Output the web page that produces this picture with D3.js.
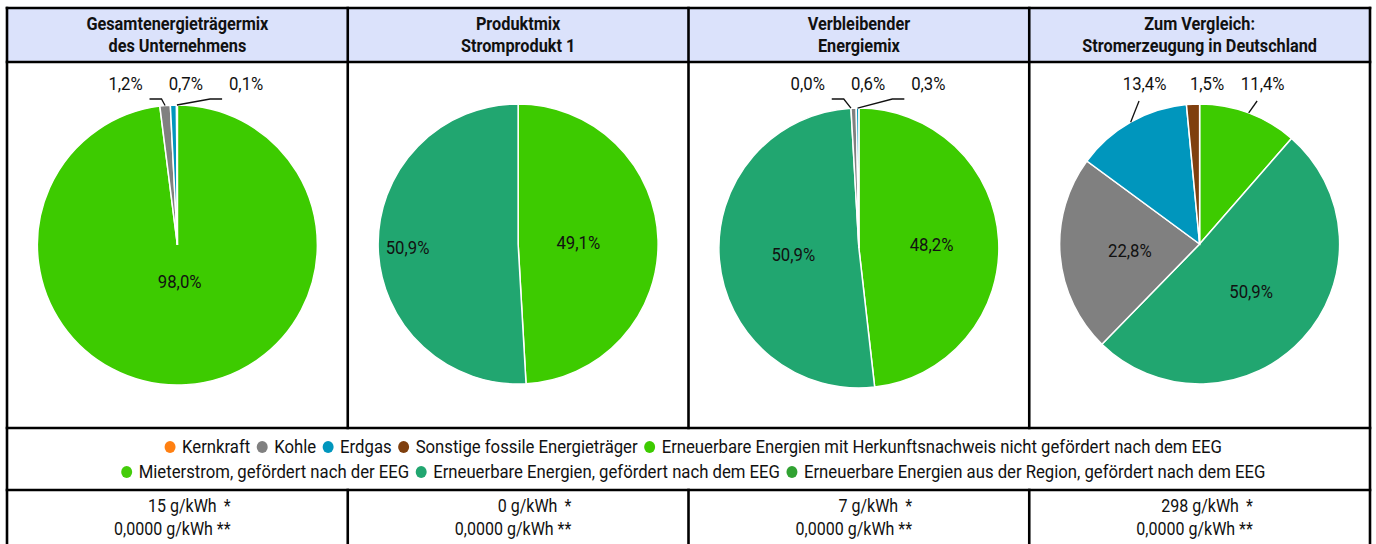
<!DOCTYPE html>
<html>
<head>
<meta charset="utf-8">
<script src="https://cdn.jsdelivr.net/npm/d3@7"></script>
<style>
  body { margin: 0; background: #fff; }
  text { font-family: Roboto, "Noto Sans", sans-serif; fill: #111; }
</style>
</head>
<body>
<div id="chart"></div>
<script>

var width = 1376;
var height = 544;

// legend categories (legend order)
var categories = [
  "Kernkraft",
  "Kohle",
  "Erdgas",
  "Sonstige fossile Energieträger",
  "Erneuerbare Energien mit Herkunftsnachweis nicht gefördert nach dem EEG",
  "Mieterstrom, gefördert nach der EEG",
  "Erneuerbare Energien, gefördert nach dem EEG",
  "Erneuerbare Energien aus der Region, gefördert nach dem EEG"
];
var colors = ["#ff8012", "#808080", "#0096bd", "#7f3f0e", "#3dcb00", "#44cc0a", "#21a670", "#31a232"];

// column headers
var titles = [
  ["Gesamtenergieträgermix", "des Unternehmens"],
  ["Produktmix", "Stromprodukt 1"],
  ["Verbleibender", "Energiemix"],
  ["Zum Vergleich:", "Stromerzeugung in Deutschland"]
];

// shares in %, same order as categories (null = not in this mix)
var gesamtmix   = [null, 1.2, 0.7, 0.1, 98.0, null, null, null];
var produktmix  = [null, null, null, null, 49.1, null, 50.9, null];
var verbleibend = [0.0, 0.6, 0.3, null, 48.2, null, 50.9, null];
var deutschland = [null, 22.8, 13.4, 1.5, 11.4, null, 50.9, null];
var mixes = [gesamtmix, produktmix, verbleibend, deutschland];

// CO2 emissions and radioactive waste per column
var co2 = [15, 0, 7, 298];
var waste = [0, 0, 0, 0];

// slices run clockwise from 12 o'clock in this order
var sliceOrder = [4, 5, 6, 7, 0, 1, 2, 3];

// layout
var tableTop = 8, headBottom = 62, plotBottom = 428, legendBottom = 490, tableBottom = 560;
var radius = 140;
var pieY = [245, 244, 248, 244];
// radial position of labels inside the slices (fraction of radius)
var insideLabelR = [{4: 0.26}, {4: 0.43, 6: 0.79}, {4: 0.52, 6: 0.47}, {}];
var SX = 0.88; // narrow the font a bit

var de = d3.formatLocale({decimal: ",", thousands: ".", grouping: [3], currency: ["", "€"]});
var pct = de.format(".1f");
var fmt4 = de.format(".4f");

var xCol = d3.scaleLinear().domain([0, 4]).range([7, 1370]);

var svg = d3.select("#chart")
  .append("svg")
  .attr("width", width)
  .attr("height", height);

function label(sel, x, y, str, size, weight, anchor) {
  return sel.append("text")
    .attr("transform", "translate(" + x + "," + y + ") scale(" + SX + ",1)")
    .attr("text-anchor", anchor || "middle")
    .style("font-size", size + "px")
    .style("font-weight", weight || 400)
    .text(str);
}
function textWidth(t) {
  return t.node().getComputedTextLength() * SX;
}

// header background
svg.append("rect")
  .attr("x", xCol(0)).attr("y", tableTop)
  .attr("width", xCol(4) - xCol(0)).attr("height", headBottom - tableTop)
  .attr("fill", "#dbe2fb");

// headers
titles.forEach(function(t, i) {
  var cx = (xCol(i) + xCol(i + 1)) / 2;
  label(svg, cx, 30, t[0], 18.5, 700);
  label(svg, cx, 52, t[1], 18.5, 700);
});

// pies
var pie = d3.pie().sort(null).value(function(d) { return d.v || 0; })
  .startAngle(0).endAngle(2 * Math.PI);
var arc = d3.arc().innerRadius(0).outerRadius(radius);

mixes.forEach(function(mix, i) {
  var cx = (xCol(i) + xCol(i + 1)) / 2;
  var cy = pieY[i];
  var rows = sliceOrder.map(function(k) { return {k: k, v: mix[k]}; });
  var arcs = pie(rows);

  var g = svg.append("g").attr("transform", "translate(" + cx + "," + cy + ")");
  g.selectAll("path")
    .data(arcs.filter(function(d) { return d.value > 0; }))
    .enter()
    .append("path")
    .attr("d", arc)
    .attr("fill", function(d) { return colors[d.data.k]; })
    .attr("stroke", "#fff")
    .attr("stroke-width", 1.5);

  var shown = arcs.filter(function(d) { return d.data.v != null; });

  // large slices: label inside
  shown.filter(function(d) { return d.value >= 15; }).forEach(function(d) {
    var a = (d.startAngle + d.endAngle) / 2;
    var f = insideLabelR[i][d.data.k] || 0.5;
    var lx = cx + f * radius * Math.sin(a);
    var ly = cy - f * radius * Math.cos(a);
    label(svg, lx, ly + 7, pct(d.data.v) + "%", 19);
  });

  // small slices: label above the pie
  var outs = shown.filter(function(d) { return d.value < 15; }).map(function(d) {
    var a = (d.startAngle + d.endAngle) / 2;
    var o = {d: d, ax: cx + radius * Math.sin(a), ay: cy - radius * Math.cos(a)};
    o.lx = o.ax + 14;
    o.t = label(svg, o.lx, 90, pct(d.data.v) + "%", 19);
    o.w = textWidth(o.t);
    return o;
  });
  outs.sort(function(a, b) { return a.lx - b.lx; });
  var crowded = false;
  for (var j = 1; j < outs.length; j++) {
    if (outs[j].lx - outs[j - 1].lx < (outs[j].w + outs[j - 1].w) / 2 + 6) crowded = true;
  }
  if (crowded) {
    var step = d3.max(outs, function(o) { return o.w; }) + 26;
    var mid = d3.mean(outs, function(o) { return o.lx; });
    outs.forEach(function(o, j) {
      o.lx = mid + (j - (outs.length - 1) / 2) * step;
      o.t.attr("transform", "translate(" + o.lx + ",90) scale(" + SX + ",1)");
    });
  }
  outs.forEach(function(o) {
    var pts = null;
    if (Math.abs(o.lx - o.ax) > 30) {
      var s = o.lx < o.ax ? 1 : -1;
      pts = [[o.lx + s * 24, 99], [o.lx + s * 36, 99], [o.ax, o.ay]];
    } else if (o.ay - 94 > 16) {
      pts = [[o.ax, o.ay], [o.ax + 0.6 * (o.lx - o.ax), 101]];
    }
    if (pts) {
      svg.append("path")
        .attr("d", d3.line()(pts))
        .attr("fill", "none")
        .attr("stroke", "#111")
        .attr("stroke-width", 1.3);
    }
  });
});

// legend
var legendG = svg.append("g");
var items = categories.map(function(c, k) {
  var t = label(legendG, 0, 0, c, 19, 400, "start");
  return {k: k, t: t, w: 12 + textWidth(t) + 12};
});
var lines = [[]], lineW = [0], maxW = 1250;
items.forEach(function(it) {
  var n = lines.length - 1;
  if (lineW[n] + it.w > maxW && lines[n].length) { lines.push([]); lineW.push(0); n++; }
  lines[n].push(it);
  lineW[n] += it.w;
});
lines.forEach(function(line, n) {
  var x = 697 - lineW[n] / 2;
  var y = 453 + n * 25;
  line.forEach(function(it) {
    legendG.append("ellipse")
      .attr("cx", x + 5).attr("cy", y - 6)
      .attr("rx", 5.5).attr("ry", 6)
      .attr("fill", colors[it.k]);
    it.t.attr("transform", "translate(" + (x + 17) + "," + y + ") scale(" + SX + ",1)");
    x += it.w;
  });
});

// footer
co2.forEach(function(v, i) {
  var cx = (xCol(i) + xCol(i + 1)) / 2 - 5;
  var t2 = label(svg, cx, 535, fmt4(waste[i]) + " g/kWh **", 18.2);
  var right = cx + textWidth(t2) / 2;
  label(svg, right, 512, "*", 18.2, 400, "end");
  label(svg, right - 14, 512, v + " g/kWh", 18.2, 400, "end");
});

// table rules
var rules = [
  [xCol(0), tableTop, xCol(4), tableTop],
  [xCol(0), headBottom, xCol(4), headBottom],
  [xCol(0), plotBottom, xCol(4), plotBottom],
  [xCol(0), legendBottom, xCol(4), legendBottom],
  [xCol(0), tableTop, xCol(0), tableBottom],
  [xCol(4), tableTop, xCol(4), tableBottom]
];
[1, 2, 3].forEach(function(i) {
  rules.push([xCol(i), tableTop, xCol(i), plotBottom]);
  rules.push([xCol(i), legendBottom, xCol(i), tableBottom]);
});
svg.append("g").selectAll("line")
  .data(rules)
  .enter()
  .append("line")
  .attr("x1", function(d) { return d[0]; })
  .attr("y1", function(d) { return d[1]; })
  .attr("x2", function(d) { return d[2]; })
  .attr("y2", function(d) { return d[3]; })
  .attr("stroke", "#000")
  .attr("stroke-width", 2.6)
  .attr("stroke-linecap", "square");

</script>
</body>
</html>
